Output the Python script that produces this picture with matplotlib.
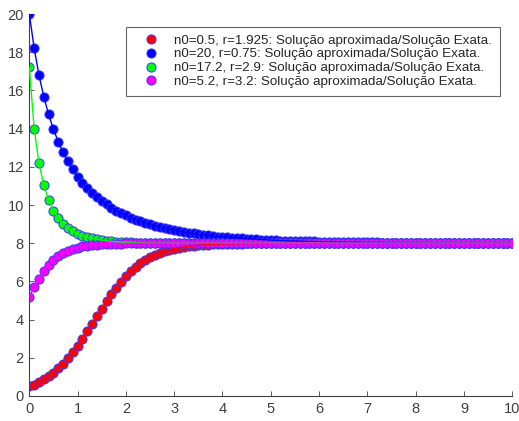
import matplotlib
matplotlib.use("Agg")
import matplotlib.pyplot as plt

plt.rcParams['font.family'] = ['Liberation Sans', 'DejaVu Sans']

t = [i / 10 for i in range(101)]

n_red = [0.50, 0.60, 0.72, 0.87, 1.03, 1.23, 1.45, 1.70, 1.99, 2.30,
         2.64, 3.01, 3.39, 3.78, 4.18, 4.58, 4.97, 5.33, 5.68, 5.99,
         6.28, 6.53, 6.76, 6.95, 7.12, 7.27, 7.39, 7.49, 7.58, 7.65,
         7.71, 7.76, 7.81, 7.84, 7.87, 7.89, 7.91, 7.93, 7.94, 7.95,
         7.96, 7.97, 7.97, 7.98, 7.98, 7.99, 7.99, 7.99, 7.99, 7.99,
         8.00, 8.00, 8.00, 8.00, 8.00, 8.00, 8.00, 8.00, 8.00, 8.00,
         8.00, 8.00, 8.00, 8.00, 8.00, 8.00, 8.00, 8.00, 8.00, 8.00,
         8.00, 8.00, 8.00, 8.00, 8.00, 8.00, 8.00, 8.00, 8.00, 8.00,
         8.00, 8.00, 8.00, 8.00, 8.00, 8.00, 8.00, 8.00, 8.00, 8.00,
         8.00, 8.00, 8.00, 8.00, 8.00, 8.00, 8.00, 8.00, 8.00, 8.00,
         8.00]

n_blue = [20.00, 18.21, 16.80, 15.66, 14.74, 13.96, 13.31, 12.75, 12.28, 11.86,
          11.49, 11.17, 10.89, 10.64, 10.41, 10.21, 10.03, 9.86, 9.71, 9.58,
          9.46, 9.34, 9.24, 9.15, 9.06, 8.99, 8.91, 8.85, 8.79, 8.73,
          8.68, 8.63, 8.58, 8.54, 8.51, 8.47, 8.44, 8.41, 8.38, 8.35,
          8.33, 8.31, 8.29, 8.27, 8.25, 8.23, 8.22, 8.20, 8.19, 8.18,
          8.16, 8.15, 8.14, 8.13, 8.12, 8.12, 8.11, 8.10, 8.09, 8.09,
          8.08, 8.08, 8.07, 8.07, 8.06, 8.06, 8.05, 8.05, 8.05, 8.04,
          8.04, 8.04, 8.04, 8.03, 8.03, 8.03, 8.03, 8.03, 8.02, 8.02,
          8.02, 8.02, 8.02, 8.02, 8.02, 8.02, 8.01, 8.01, 8.01, 8.01,
          8.01, 8.01, 8.01, 8.01, 8.01, 8.01, 8.01, 8.01, 8.01, 8.01,
          8.01]

n_green = [17.20, 14.00, 12.18, 11.03, 10.26, 9.71, 9.32, 9.02, 8.80, 8.63,
           8.49, 8.39, 8.31, 8.25, 8.20, 8.16, 8.13, 8.10, 8.08, 8.06,
           8.05, 8.04, 8.03, 8.03, 8.02, 8.02, 8.01, 8.01, 8.01, 8.01,
           8.01, 8.00, 8.00, 8.00, 8.00, 8.00, 8.00, 8.00, 8.00, 8.00,
           8.00, 8.00, 8.00, 8.00, 8.00, 8.00, 8.00, 8.00, 8.00, 8.00,
           8.00, 8.00, 8.00, 8.00, 8.00, 8.00, 8.00, 8.00, 8.00, 8.00,
           8.00, 8.00, 8.00, 8.00, 8.00, 8.00, 8.00, 8.00, 8.00, 8.00,
           8.00, 8.00, 8.00, 8.00, 8.00, 8.00, 8.00, 8.00, 8.00, 8.00,
           8.00, 8.00, 8.00, 8.00, 8.00, 8.00, 8.00, 8.00, 8.00, 8.00,
           8.00, 8.00, 8.00, 8.00, 8.00, 8.00, 8.00, 8.00, 8.00, 8.00,
           8.00]

n_magenta = [5.20, 5.70, 6.15, 6.53, 6.85, 7.10, 7.31, 7.47, 7.60, 7.70,
             7.77, 7.83, 7.87, 7.90, 7.93, 7.95, 7.96, 7.97, 7.98, 7.98,
             7.99, 7.99, 7.99, 8.00, 8.00, 8.00, 8.00, 8.00, 8.00, 8.00,
             8.00, 8.00, 8.00, 8.00, 8.00, 8.00, 8.00, 8.00, 8.00, 8.00,
             8.00, 8.00, 8.00, 8.00, 8.00, 8.00, 8.00, 8.00, 8.00, 8.00,
             8.00, 8.00, 8.00, 8.00, 8.00, 8.00, 8.00, 8.00, 8.00, 8.00,
             8.00, 8.00, 8.00, 8.00, 8.00, 8.00, 8.00, 8.00, 8.00, 8.00,
             8.00, 8.00, 8.00, 8.00, 8.00, 8.00, 8.00, 8.00, 8.00, 8.00,
             8.00, 8.00, 8.00, 8.00, 8.00, 8.00, 8.00, 8.00, 8.00, 8.00,
             8.00, 8.00, 8.00, 8.00, 8.00, 8.00, 8.00, 8.00, 8.00, 8.00,
             8.00]

labels = ["n0=0.5, r=1.925: Solução aproximada/Solução Exata.",
          "n0=20, r=0.75: Solução aproximada/Solução Exata.",
          "n0=17.2, r=2.9: Solução aproximada/Solução Exata.",
          "n0=5.2, r=3.2: Solução aproximada/Solução Exata."]
series = [n_red, n_blue, n_green, n_magenta]
face_colors = ['#ff0000', '#0000ff', '#00ff00', '#ff00ff']

fig = plt.figure(figsize=(5.19, 4.21), dpi=100)
ax = fig.add_axes([0.0565, 0.0594, 0.9305, 0.9073])

for y, fc, lab in zip(series, face_colors, labels):
    ax.plot(t, y, linestyle='none', marker='o', markersize=6.6,
            markerfacecolor=fc, markeredgecolor='#3a3aff',
            markeredgewidth=0.7, label=lab, zorder=2)
for y, fc in zip(series, face_colors):
    ax.plot(t, y, color=fc, linewidth=1.0, zorder=3)

ax.set_xlim(0, 10)
ax.set_ylim(0, 20)
ax.set_xticks(range(0, 11))
ax.set_yticks(range(0, 21, 2))
for s in ['top', 'right']:
    ax.spines[s].set_visible(False)
for s in ['left', 'bottom']:
    ax.spines[s].set_color('#404040')
    ax.spines[s].set_linewidth(0.8)
ax.tick_params(direction='in', length=3.5, width=0.6, colors='#404040',
               labelsize=10.5, pad=4)

leg = ax.legend(loc='upper right', bbox_to_anchor=(0.964, 0.937),
                bbox_transform=fig.transFigure, borderaxespad=0,
                fancybox=False, fontsize=9.6, frameon=True,
                handletextpad=0.45, handlelength=2.55, labelspacing=0.13,
                borderpad=0.6, handleheight=0.6)
leg.get_frame().set_edgecolor('#404040')
leg.get_frame().set_linewidth(0.8)
for txt in leg.get_texts():
    txt.set_color('#262626')

fig.savefig("out.png", dpi=100)
